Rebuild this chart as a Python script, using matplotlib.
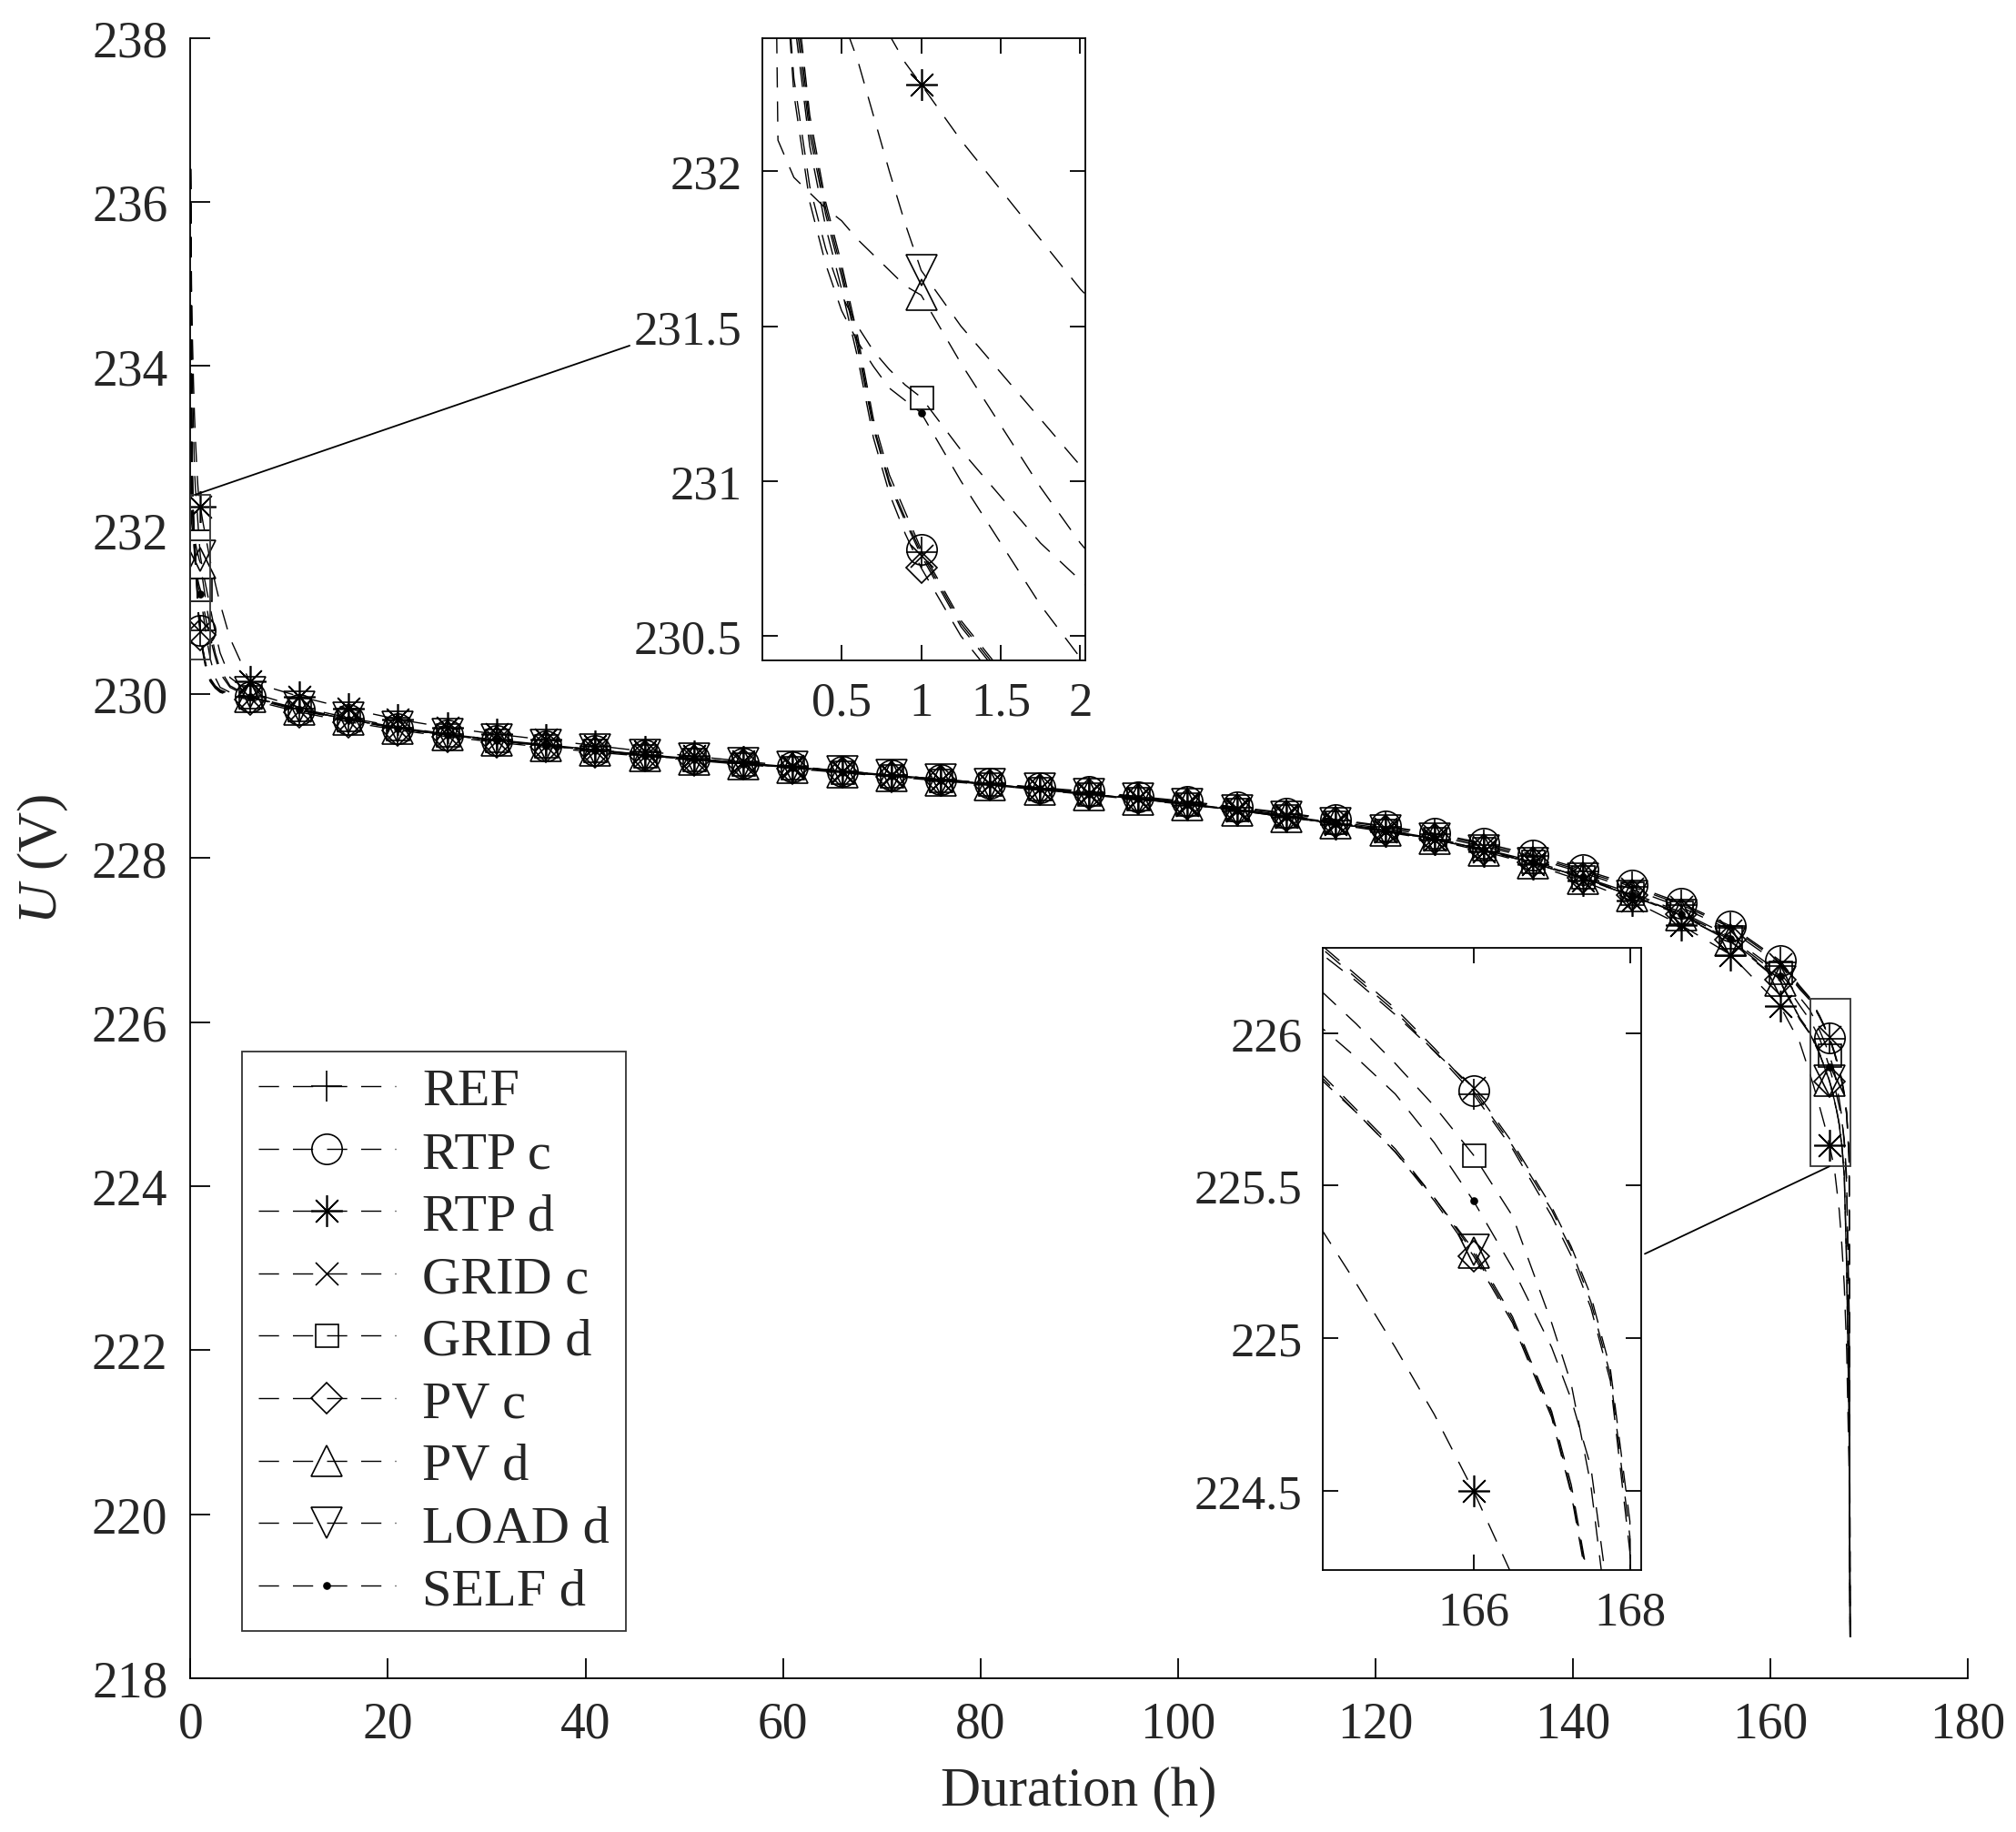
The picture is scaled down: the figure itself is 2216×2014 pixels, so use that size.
"""Discharge voltage curves with two zoomed insets (start and end of discharge)."""

import numpy as np
import matplotlib

matplotlib.use("Agg")
import matplotlib.pyplot as plt
from matplotlib.patches import ConnectionPatch, Rectangle

plt.rcParams["font.family"] = ["Liberation Serif", "DejaVu Serif"]
plt.rcParams["mathtext.fontset"] = "custom"
plt.rcParams["mathtext.it"] = "Liberation Serif:italic"
plt.rcParams["mathtext.rm"] = "Liberation Serif"
plt.rcParams["lines.scale_dashes"] = False

INK = "#262626"

# time axis (h): start transient, one point per marker, end of discharge
HOURS = [
    0, 0.1, 0.2, 0.3, 0.4, 0.5, 0.6, 0.7, 0.8, 0.9, 1, 1.25, 1.5, 1.75, 2, 2.5, 3, 4,
    6, 11, 16, 21, 26, 31, 36, 41, 46, 51, 56, 61, 66, 71, 76, 81, 86, 91, 96, 101,
    106, 111, 116, 121, 126, 131, 136, 141, 146, 151, 156, 161,
    163, 164, 164.5, 165, 165.5, 166, 166.5, 167, 167.25, 167.5, 167.75, 168, 168.1,
]
MARKER_HOURS = [1, 6, 11, 16, 21, 26, 31, 36, 41, 46, 51, 56, 61, 66, 71, 76, 81,
                86, 91, 96, 101, 106, 111, 116, 121, 126, 131, 136, 141, 146, 151,
                156, 161, 166]

REF_U = [
    236.4, 233.5, 232.6, 232.15, 231.88, 231.68, 231.45, 231.18, 231.0, 230.88, 230.77,
    230.54, 230.38, 230.26, 230.18, 230.09, 230.04, 230.0,
    229.97, 229.82, 229.70, 229.59, 229.51, 229.44, 229.38, 229.32, 229.26, 229.21,
    229.16, 229.11, 229.06, 229.01, 228.96, 228.91, 228.85, 228.80, 228.74, 228.68,
    228.61, 228.54, 228.46, 228.38, 228.29, 228.16, 228.02, 227.84, 227.65, 227.43,
    227.15, 226.73,
    226.42, 226.29, 226.18, 226.07, 225.94, 225.80, 225.62, 225.40, 225.27, 225.10,
    224.86, 224.30, 218.5,
]
RTP_C_U = [
    236.4, 233.6, 232.65, 232.18, 231.9, 231.7, 231.47, 231.2, 231.02, 230.9, 230.78,
    230.55, 230.39, 230.27, 230.19, 230.1, 230.05, 230.0,
    229.96, 229.81, 229.69, 229.58, 229.50, 229.43, 229.37, 229.31, 229.26, 229.21,
    229.16, 229.11, 229.06, 229.01, 228.96, 228.91, 228.86, 228.81, 228.75, 228.69,
    228.62, 228.55, 228.47, 228.39, 228.30, 228.18, 228.04, 227.86, 227.67, 227.45,
    227.17, 226.75,
    226.44, 226.30, 226.19, 226.08, 225.95, 225.81, 225.63, 225.42, 225.29, 225.12,
    224.88, 224.35, 218.5,
]
RTP_D_U = [
    236.4, 235.0, 234.3, 233.8, 233.4, 233.1, 232.85, 232.62, 232.44, 232.35, 232.28,
    232.1, 231.94, 231.78, 231.62, 231.35, 231.1, 230.68,
    230.15, 229.97, 229.82, 229.69, 229.59, 229.51, 229.44, 229.37, 229.30, 229.24,
    229.18, 229.12, 229.06, 229.01, 228.95, 228.90, 228.84, 228.78, 228.72, 228.65,
    228.58, 228.50, 228.41, 228.32, 228.22, 228.08, 227.92, 227.72, 227.48, 227.18,
    226.82, 226.20,
    225.75, 225.38, 225.18, 224.97, 224.75, 224.50, 224.22, 223.70, 223.30, 222.80,
    222.0, 220.5, 218.5,
]
GRID_C_U = [
    236.4, 233.4, 232.55, 232.12, 231.86, 231.66, 231.43, 231.17, 230.99, 230.87, 230.76,
    230.53, 230.37, 230.25, 230.17, 230.08, 230.03, 229.99,
    229.95, 229.80, 229.68, 229.58, 229.50, 229.43, 229.37, 229.31, 229.25, 229.20,
    229.15, 229.10, 229.05, 229.00, 228.95, 228.90, 228.84, 228.79, 228.73, 228.67,
    228.60, 228.52, 228.44, 228.36, 228.27, 228.14, 228.00, 227.82, 227.62, 227.40,
    227.12, 226.70,
    226.40, 226.27, 226.17, 226.06, 225.94, 225.82, 225.64, 225.43, 225.30, 225.14,
    224.90, 224.40, 218.5,
]
GRID_D_U = [
    236.4, 233.0, 232.3, 231.95, 231.75, 231.6, 231.5, 231.42, 231.36, 231.31, 231.27,
    231.1, 230.95, 230.8, 230.68, 230.45, 230.25, 230.08,
    229.96, 229.81, 229.69, 229.58, 229.50, 229.43, 229.37, 229.31, 229.25, 229.20,
    229.15, 229.10, 229.05, 229.00, 228.95, 228.90, 228.84, 228.78, 228.72, 228.66,
    228.59, 228.51, 228.43, 228.34, 228.24, 228.11, 227.96, 227.77, 227.57, 227.34,
    227.04, 226.60,
    226.30, 226.15, 226.03, 225.90, 225.76, 225.60, 225.40, 225.05, 224.85, 224.52,
    224.0, 222.5, 218.5,
]
PV_C_U = [
    236.4, 233.4, 232.5, 232.08, 231.82, 231.62, 231.4, 231.14, 230.96, 230.83, 230.72,
    230.5, 230.34, 230.23, 230.15, 230.07, 230.02, 229.98,
    229.93, 229.78, 229.66, 229.56, 229.48, 229.41, 229.35, 229.29, 229.24, 229.19,
    229.14, 229.09, 229.04, 228.99, 228.94, 228.89, 228.83, 228.78, 228.72, 228.66,
    228.59, 228.51, 228.43, 228.34, 228.24, 228.10, 227.95, 227.76, 227.55, 227.31,
    227.00, 226.52,
    226.04, 225.87, 225.74, 225.61, 225.45, 225.27, 225.05, 224.74, 224.49, 224.13,
    223.0, 221.0, 218.5,
]
PV_D_U = [
    236.4, 232.1, 231.98, 231.93, 231.88, 231.84, 231.78, 231.73, 231.68, 231.63, 231.6,
    231.38, 231.18, 230.98, 230.8, 230.5, 230.3, 230.1,
    229.97, 229.81, 229.69, 229.58, 229.50, 229.43, 229.37, 229.31, 229.25, 229.20,
    229.15, 229.10, 229.05, 229.00, 228.95, 228.89, 228.83, 228.77, 228.71, 228.65,
    228.58, 228.50, 228.42, 228.33, 228.23, 228.09, 227.94, 227.75, 227.54, 227.30,
    226.99, 226.50,
    226.05, 225.88, 225.75, 225.62, 225.46, 225.28, 225.06, 224.75, 224.50, 224.15,
    223.0, 221.0, 218.5,
]
LOAD_D_U = [
    236.4, 234.6, 233.8, 233.2, 232.75, 232.5, 232.36, 232.18, 232.0, 231.83, 231.68,
    231.5, 231.35, 231.2, 231.05, 230.75, 230.5, 230.2,
    230.02, 229.84, 229.71, 229.60, 229.51, 229.44, 229.38, 229.32, 229.26, 229.21,
    229.16, 229.11, 229.06, 229.01, 228.96, 228.90, 228.84, 228.78, 228.72, 228.66,
    228.58, 228.50, 228.42, 228.33, 228.23, 228.09, 227.94, 227.75, 227.54, 227.30,
    226.98, 226.49,
    226.03, 225.86, 225.74, 225.61, 225.46, 225.29, 225.07, 224.76, 224.52, 224.16,
    223.1, 221.0, 218.5,
]
SELF_D_U = [
    236.4, 233.0, 232.25, 231.9, 231.7, 231.55, 231.45, 231.37, 231.3, 231.26, 231.22,
    231.0, 230.8, 230.6, 230.43, 230.2, 230.08, 230.02,
    229.96, 229.81, 229.69, 229.58, 229.50, 229.43, 229.37, 229.31, 229.25, 229.20,
    229.15, 229.10, 229.05, 229.00, 228.95, 228.90, 228.84, 228.78, 228.72, 228.66,
    228.58, 228.50, 228.42, 228.33, 228.23, 228.10, 227.95, 227.76, 227.55, 227.32,
    227.02, 226.56,
    226.20, 226.03, 225.92, 225.80, 225.64, 225.45, 225.23, 224.97, 224.80, 224.58,
    224.1, 222.0, 218.5,
]

LABELS = ["REF", "RTP c", "RTP d", "GRID c", "GRID d", "PV c", "PV d", "LOAD d", "SELF d"]
VOLTAGES = [REF_U, RTP_C_U, RTP_D_U, GRID_C_U, GRID_D_U, PV_C_U, PV_D_U, LOAD_D_U, SELF_D_U]
MARKERS = ["+", "o", (8, 2, 0), "x", "s", "D", "^", "v", "o"]
MARKER_SIZES = [25, 24, 25, 18, 18, 17, 24, 24, 5]

DASH = (0, (16, 11))
hours = np.array(HOURS)
mark_idx = [int(np.argmin(np.abs(hours - h))) for h in MARKER_HOURS]


def draw_series(ax, with_labels=False):
    for label, volts, marker, ms in zip(LABELS, VOLTAGES, MARKERS, MARKER_SIZES):
        filled = label == "SELF d"
        ax.plot(
            hours, volts,
            linestyle=DASH, color="black", linewidth=1.0,
            marker=marker, markersize=ms, markevery=mark_idx,
            markerfacecolor="black" if filled else "none",
            markeredgecolor="black", markeredgewidth=1.2,
            label=label if with_labels else None,
        )


def style_axes(ax, size, length, pad, mirror):
    for side in ("top", "right"):
        ax.spines[side].set_visible(mirror)
    for spine in ax.spines.values():
        spine.set_color("black")
        spine.set_linewidth(1.3)
    ax.tick_params(direction="in", length=length, width=1.3, colors="black",
                   labelcolor=INK, labelsize=size, pad=pad,
                   top=mirror, right=mirror)


fig = plt.figure(figsize=(22.16, 20.15), dpi=100)
ax = fig.add_axes([0.0945, 0.0839, 0.8815, 0.895])
draw_series(ax, with_labels=True)
ax.set_xlim(0, 180)
ax.set_ylim(218, 238)
ax.set_xticks(np.arange(0, 181, 20))
ax.set_yticks(np.arange(218, 239, 2))
style_axes(ax, 40, 16, 18, False)
ax.set_xlabel("Duration (h)", fontsize=44, color=INK, labelpad=14)
ax.set_ylabel("$U$ (V)", fontsize=44, color=INK, labelpad=17)

leg = ax.legend(loc="lower left", bbox_to_anchor=(0.029, 0.029), borderaxespad=0,
                fontsize=42, handlelength=2.6, handletextpad=0.5, labelspacing=0.27,
                borderpad=0.3, frameon=True, fancybox=False)
leg.get_frame().set_edgecolor("black")
leg.get_frame().set_linewidth(1.3)
for text in leg.get_texts():
    text.set_color(INK)

# zoom windows
ZOOM1 = (0.0, 2.03, 230.42, 232.43)
ZOOM2 = (164.07, 168.15, 224.24, 226.28)
for x0, x1, y0, y1 in (ZOOM1, ZOOM2):
    ax.add_patch(Rectangle((x0, y0), x1 - x0, y1 - y0, fill=False,
                           edgecolor="0.2", linewidth=1.3, zorder=5))

ins1 = fig.add_axes([0.378, 0.639, 0.1602, 0.3398])
draw_series(ins1)
ins1.set_xlim(ZOOM1[0], ZOOM1[1])
ins1.set_ylim(ZOOM1[2], ZOOM1[3])
ins1.set_xticks([0.5, 1, 1.5, 2])
ins1.set_xticklabels(["0.5", "1", "1.5", "2"])
ins1.set_yticks([230.5, 231, 231.5, 232])
ins1.set_yticklabels(["230.5", "231", "231.5", "232"])
style_axes(ins1, 38, 12, 16, True)

ins2 = fig.add_axes([0.656, 0.1428, 0.1583, 0.3398])
draw_series(ins2)
ins2.set_xlim(ZOOM2[0], ZOOM2[1])
ins2.set_ylim(ZOOM2[2], ZOOM2[3])
ins2.set_xticks([166, 168])
ins2.set_yticks([224.5, 225, 225.5, 226])
ins2.set_yticklabels(["224.5", "225", "225.5", "226"])
style_axes(ins2, 38, 12, 16, True)

con1 = ConnectionPatch(xyA=(0.5, ZOOM1[3]), coordsA=ax.transData,
                       xyB=(-0.41, 0.506), coordsB=ins1.transAxes,
                       color="black", linewidth=1.3)
con2 = ConnectionPatch(xyA=(166.0, ZOOM2[2]), coordsA=ax.transData,
                       xyB=(1.01, 0.508), coordsB=ins2.transAxes,
                       color="black", linewidth=1.3)
fig.add_artist(con1)
fig.add_artist(con2)

fig.savefig("out.png", dpi=100)
